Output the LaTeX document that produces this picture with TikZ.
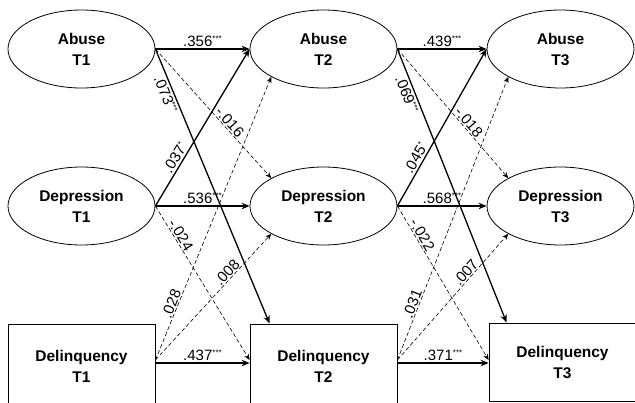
\documentclass[tikz,border=0pt]{standalone}
\usepackage{fontspec}
\setmainfont{Liberation Sans}
\usetikzlibrary{shapes.geometric,arrows.meta,calc}
\newcommand{\stars}[1]{\raisebox{5pt}{\fontsize{8}{8}\selectfont #1}}
\begin{document}
\begin{tikzpicture}[x=1pt,y=-1pt,
  latent/.style={draw, ellipse, line width=0.8pt, minimum width=147pt, minimum height=78pt,
    inner sep=0pt, align=center, font=\fontsize{15.5}{21}\selectfont\bfseries},
  observed/.style={draw, rectangle, line width=0.8pt, minimum width=147pt,
    inner sep=0pt, align=center, font=\fontsize{15.5}{21}\selectfont\bfseries},
  sig/.style={-{Stealth[length=8pt,width=6.5pt]}, line width=1.3pt},
  ns/.style={-{Stealth[length=6pt,width=5pt]}, dash pattern=on 4pt off 2.5pt, line width=0.6pt},
  lab/.style={font=\fontsize{15}{15}\selectfont, inner sep=1pt}
]
\useasboundingbox (0,0) rectangle (635,402);
\clip (0,0) rectangle (635,402);
\fill[white] (0,0) rectangle (635,402);

% nodes
\node[latent] (A1) at (81.5,49) {Abuse\\T1};
\node[latent] (A2) at (323.5,49) {Abuse\\T2};
\node[latent] (A3) at (560.5,49) {Abuse\\T3};
\node[latent] (D1) at (81.5,206) {Depression\\T1};
\node[latent] (D2) at (323.5,206) {Depression\\T2};
\node[latent] (D3) at (560.5,206) {Depression\\T3};
\node[observed, minimum height=84pt] (L1) at (81.5,366) {Delinquency\\T1};
\node[observed, minimum height=84pt] (L2) at (323.5,366) {Delinquency\\T2};
\node[observed, minimum height=78pt] (L3) at (562.5,362) {Delinquency\\T3};

% T1 -> T2
\draw[sig] (A1.east) -- (A2.west) node[midway, above=1pt, lab] {.356\stars{***}};
\draw[sig] (D1.east) -- (D2.west) node[midway, above=1pt, lab] {.536\stars{***}};
\draw[sig] ([yshift=3pt]L1.east) -- ([yshift=3pt]L1.east -| L2.west) node[midway, above=1pt, lab] {.437\stars{***}};
\draw[sig] (A1.east) -- ([xshift=20pt]L2.north west) node[pos=0.155, sloped, below=1pt, lab] {.073\stars{***}};
\draw[ns] (A1.east) -- (D2.north west) node[pos=0.6, sloped, above=0pt, lab] {-.016};
\draw[sig] (D1.east) -- (A2.west) node[pos=0.28, sloped, above=1pt, lab] {.037\stars{*}};
\draw[ns] (D1.east) -- ([yshift=6pt]L1.east -| L2.west) node[pos=0.21, sloped, above=0pt, lab] {-.024};
\draw[ns] ([yshift=6pt]L1.east) -- (D2.south west) node[pos=0.66, sloped, above=0pt, lab] {.008};
\draw[ns] ([yshift=6pt]L1.east) -- (A2.south west) node[pos=0.19, sloped, above=0pt, lab] {.028};

% T2 -> T3
\draw[sig] (A2.east) -- (A3.west) node[midway, above=1pt, lab] {.439\stars{***}};
\draw[sig] (D2.east) -- (D3.west) node[midway, above=1pt, lab] {.568\stars{***}};
\draw[sig] ([yshift=3pt]L2.east) -- ([yshift=3pt]L2.east -| L3.west) node[midway, above=1pt, lab] {.371\stars{***}};
\draw[sig] (A2.east) -- ([xshift=18pt]L3.north west) node[pos=0.155, sloped, below=1pt, lab] {.069\stars{***}};
\draw[ns] (A2.east) -- (D3.north west) node[pos=0.6, sloped, above=0pt, lab] {-.018};
\draw[sig] (D2.east) -- (A3.west) node[pos=0.28, sloped, above=1pt, lab] {.045\stars{*}};
\draw[ns] (D2.east) -- ([yshift=6pt]L2.east -| L3.west) node[pos=0.21, sloped, above=0pt, lab] {-.022};
\draw[ns] ([yshift=6pt]L2.east) -- (D3.south west) node[pos=0.66, sloped, above=0pt, lab] {.007};
\draw[ns] ([yshift=6pt]L2.east) -- (A3.south west) node[pos=0.19, sloped, above=0pt, lab] {.031};
\end{tikzpicture}
\end{document}
